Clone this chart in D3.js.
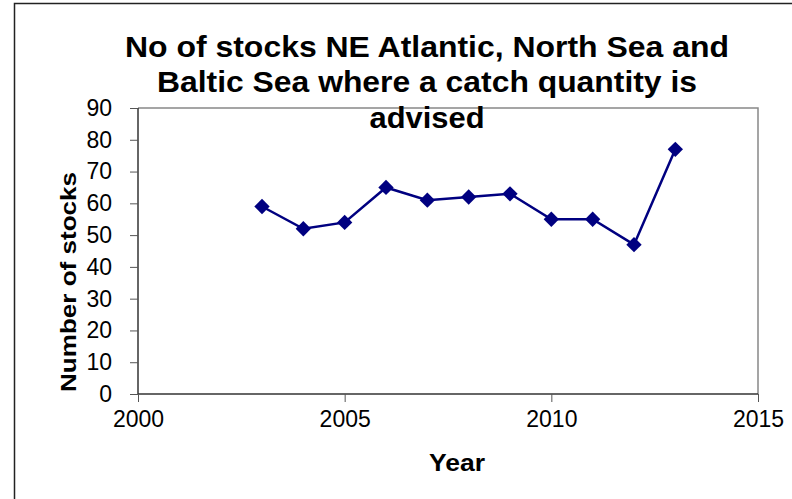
<!DOCTYPE html>
<html lang="en">
<head>
    <meta charset="UTF-8">
    <title>No of stocks NE Atlantic, North Sea and Baltic Sea</title>
    <style>
        html, body {
            margin: 0;
            padding: 0;
            background-color: #ffffff;
            font-family: 'Liberation Sans', Arial, sans-serif;
        }
        svg { display: block; }
        .tick text {
            font-family: 'Liberation Sans', Arial, sans-serif;
            font-size: 23px;
            fill: #000;
        }
    </style>
</head>
<body>
    <div id="chart"></div>
    <script src="https://d3js.org/d3.v7.min.js"></script>
    <script>
        // DATA
        const years = [2003, 2004, 2005, 2006, 2007, 2008, 2009, 2010, 2011, 2012, 2013];
        const stocks = [59, 52, 54, 65, 61, 62, 63, 55, 55, 47, 77];
        const xTicks = [2000, 2005, 2010, 2015];
        const yTicks = [0, 10, 20, 30, 40, 50, 60, 70, 80, 90];
        const titleLines = ["No of stocks NE Atlantic, North Sea and", "Baltic Sea where a catch quantity is", "advised"];

        const W = 792, H = 499;
        const plot = {left: 138, right: 758, top: 108, bottom: 394};

        const svg = d3.select("#chart")
            .append("svg")
            .attr("width", W)
            .attr("height", H);

        // OUTER BORDER
        svg.append("rect")
            .attr("x", 14.5)
            .attr("y", 3.5)
            .attr("width", W)
            .attr("height", H)
            .attr("fill", "none")
            .attr("stroke", "#222")
            .attr("stroke-width", 1.5);

        // SCALES
        const x = d3.scaleLinear().domain([2000, 2015]).range([plot.left, plot.right]);
        const y = d3.scaleLinear().domain([0, 90]).range([plot.bottom, plot.top]);

        // PLOT AREA FRAME (top/right in grey)
        svg.append("path")
            .attr("d", `M${plot.left},${plot.top}H${plot.right}V${plot.bottom}`)
            .attr("fill", "none")
            .attr("stroke", "#888")
            .attr("stroke-width", 1.5);

        // AXES
        const xAxis = d3.axisBottom(x).tickValues(xTicks).tickFormat(d3.format("d")).tickSize(8).tickPadding(9);
        const gx = svg.append("g")
            .attr("transform", `translate(0, ${plot.bottom})`)
            .call(xAxis);

        const yAxis = d3.axisLeft(y).tickValues(yTicks).tickSize(8).tickPadding(18);
        const gy = svg.append("g")
            .attr("transform", `translate(${plot.left}, 0)`)
            .call(yAxis);

        svg.selectAll(".domain")
            .attr("stroke", "#333")
            .attr("stroke-width", 1.5);
        svg.selectAll(".tick line").attr("stroke", "#555").attr("stroke-width", 1);
        gx.select(".domain").attr("d", `M${plot.left},0H${plot.right}`);
        gy.select(".domain").attr("d", `M0,${plot.top}V${plot.bottom}`);

        // LINE + MARKERS
        const pts = years.map((yr, i) => [x(yr), y(stocks[i])]);
        svg.append("path")
            .attr("d", d3.line()(pts))
            .attr("fill", "none")
            .attr("stroke", "#000080")
            .attr("stroke-width", 2.5);

        svg.selectAll(".marker")
            .data(pts).enter()
            .append("path")
            .attr("class", "marker")
            .attr("d", d3.symbol(d3.symbolDiamond2, 150)())
            .attr("transform", (d) => `translate(${d[0]},${d[1]})`)
            .attr("fill", "#000080");

        // TITLE
        const titleBase = [57, 92, 128];
        const titleWidth = [604, 540, 115];
        svg.selectAll(".title")
            .data(titleLines).enter()
            .append("text")
            .attr("class", "title")
            .attr("x", 427)
            .attr("y", (d, i) => titleBase[i])
            .attr("text-anchor", "middle")
            .attr("font-size", 29)
            .attr("font-weight", "bold")
            .attr("textLength", (d, i) => titleWidth[i])
            .attr("lengthAdjust", "spacingAndGlyphs")
            .text((d) => d);

        // AXIS TITLES
        svg.append("text")
            .attr("x", 457)
            .attr("y", 471)
            .attr("text-anchor", "middle")
            .attr("font-size", 23)
            .attr("font-weight", "bold")
            .attr("textLength", 56)
            .attr("lengthAdjust", "spacingAndGlyphs")
            .text("Year");

        svg.append("text")
            .attr("transform", "translate(76, 282) rotate(-90)")
            .attr("text-anchor", "middle")
            .attr("font-size", 22)
            .attr("font-weight", "bold")
            .attr("textLength", 220)
            .attr("lengthAdjust", "spacingAndGlyphs")
            .text("Number of stocks");
    </script>
</body>
</html>
